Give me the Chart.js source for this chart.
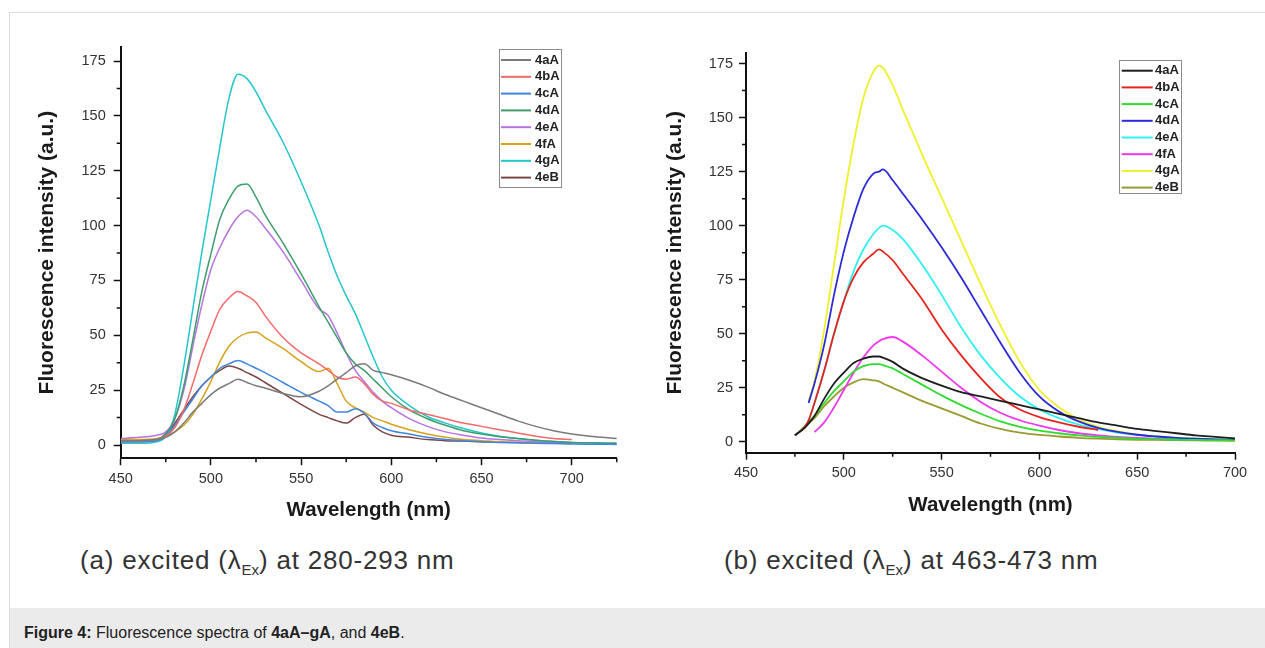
<!DOCTYPE html>
<html>
<head>
<meta charset="utf-8">
<title>Figure 4</title>
<script src="https://cdn.jsdelivr.net/npm/chart.js@4.4.1/dist/chart.umd.min.js"></script>
<style>
body { margin:0; width:1265px; height:648px; position:relative; overflow:hidden; background:#fff; font-family:"Liberation Sans", Arial, sans-serif; }
#frame { position:absolute; left:9px; top:12px; width:1270px; height:650px; border-left:1px solid #dcdcdc; border-top:1px solid #dcdcdc; }
canvas { position:absolute; top:0; }
#chartA { left:0; }
#chartB { left:640px; }
.cap { position:absolute; top:545px; font-size:26px; line-height:30px; letter-spacing:0.8px; color:#333; white-space:nowrap; }
.cap sub { font-size:15px; line-height:0; letter-spacing:0; }
#capA { left:80px; }
#capB { left:724px; }
#footer { position:absolute; left:10px; top:608px; width:1255px; height:40px; background:#ebebeb; }
#footer p { margin:0; position:absolute; left:14px; top:16px; font-size:16px; color:#222; }
</style>
</head>
<body>
<div id="frame"></div>
<canvas id="chartA" width="640" height="530"></canvas>
<canvas id="chartB" width="625" height="530"></canvas>
<div class="cap" id="capA">(a) excited (λ<sub>Ex</sub>) at 280-293 nm</div>
<div class="cap" id="capB">(b) excited (λ<sub>Ex</sub>) at 463-473 nm</div>
<div id="footer"><p><b>Figure 4:</b> Fluorescence spectra of <b>4aA–gA</b>, and <b>4eB</b>.</p></div>
<script>
'use strict';

// ---- data, panel (a) ----
var seriesNames = ['4aA', '4bA', '4cA', '4dA', '4eA', '4fA', '4gA', '4eB'];

var wlA = [450,460,470,475,480,485,490,495,500,505,510,515,520,525,530,540,550,560,565,570,575,580,585,590,595,600,610,620,630,640,650,660,670,680,690,700,710,725];
var a4aA = [2,2,2.5,3.5,6,10,15,19,23,26,28,30,28.5,27,26,23.5,22,24.5,27,30,33,36,37,34,33,32,29.5,26.5,23,20,17,14,11,8.5,6.5,5,4,3];
var a4bA = [2,2,2.5,4,8,16,28,41,52,62,67,70,68,65,59,49,42,37,34,31,30,31,28,23,20,19,16,14,12,10,8.5,7,5.5,4,3,2.5,null,null];
var a4cA = [1.5,1.5,2,4,9,15,21,27,31,35,37,38.5,37,35,33,28.5,24,20,18,15,15,16.5,14.5,10,8,6.5,5,3.5,2.5,2,1.5,1.2,1,0.8,0.7,0.5,0.4,0.3];
var a4dA = [2,2,2.5,5,12,27,48,70,87,103,112,118,119,113,105,92,78,63,56,49,42,37,34,30,26,22,16,12,9,6.5,5,3.8,3,2.2,1.6,1.2,1,0.8];
var a4eA = [3,3.5,4.5,6,12,25,45,64,80,90,98,104,107,104,99,88,75,62,59,51,42,34,29,24,20,17,12,8.5,6,4.5,3.2,2.5,2,1.5,1.2,1,null,null];
var a4fA = [2.5,2.5,3,4,6,9,14,21,29,38,45,49,51,51.5,49,44,38,33.5,35,28,20,17,15,12.5,11,9.5,7,5,3.5,2.5,2,1.5,1.2,1,0.8,0.7,null,null];
var a4gA = [0.8,0.8,1.5,4,14,36,62,88,112,136,158,169,167,161,153,138,120,100,88,77,68,60,50,40,31,25,18,13,10,7.5,5.5,4,3,2.2,1.6,1.2,1,0.8];
var a4eB = [1.5,1.5,2.5,5,10,16,22,27,31,34,36,35,33,31,28.5,23.5,18.5,14,12.5,11,10,12.5,14,9,6,4.5,3.5,2.5,2,1.8,1.5,1.3,1.1,1,0.9,0.8,null,null];

// ---- data, panel (b) ----
var wlB = [475,480,482,485,490,495,500,505,510,515,518,520,525,530,540,550,560,570,580,590,600,610,620,630,640,650,660,670,680,690,700];
var b4aA = [3,6.5,8.5,12,20,27,32,36.5,38.5,39.5,39.5,39,37,34,29.5,26,23,21,19,17,15,13,11,9,7.5,6,5,4,3,2.3,1.6];
var b4bA = [3,7,10,18,33,50,65,76,83,87,89,88,84,78,66,52,40,29.5,20.5,15,11.5,9,7,5.5,null,null,null,null,null,null,null];
var b4cA = [3,7,9,12,18,23.5,28,32.5,35,36,36,35.5,34,31.5,26.5,21.5,17,13,9.5,7,5.2,4,3,2.3,1.8,1.4,1.2,1,0.9,0.8,0.7];
var b4dA = [null,null,18,27,45,68,88,104,117,124,125,126,121,115,103,90,76,61,46,32,21,14,9.5,6.5,4.6,3.3,2.5,1.9,1.5,1.2,1];
var b4eA = [3,7,10,18,33,50,65,79,89,96,99,100,98,94,82,68,53,40,29.5,21,15,11,8,6,4.3,3.2,2.4,1.8,1.4,1.1,0.9];
var b4fA = [null,null,null,4.5,9,16,24,32,39,44.5,46.5,47.5,48.5,46.5,40,32.5,25,18.5,13.5,10,7.5,5.5,4,3,2.3,1.8,1.4,1.2,1,0.9,0.8];
var b4gA = [null,null,19,28,52,82,112,138,159,171,174,173,165,154,133,113,93,73,54,37,24,16,10.5,7,5,3.5,2.5,1.9,1.5,1.2,1];
var b4eB = [3,6.5,8.5,11,16.5,21,25,27.5,29,28.5,28,27,25,23,19,15.5,12,8.5,6,4.3,3.2,2.5,1.9,1.5,1.2,1,0.9,0.8,0.7,0.6,0.5];

// ---- ticks ----
var xTicksA = [450, 500, 550, 600, 650, 700];
var xMinorA = [475, 525, 575, 625, 675, 725];
var xTicksB = [450, 500, 550, 600, 650, 700];
var xMinorB = [475, 525, 575, 625, 675];
var yTicks = [0, 25, 50, 75, 100, 125, 150, 175];
var yMinor = [12.5, 37.5, 62.5, 87.5, 112.5, 137.5, 162.5];

var coloursA = ['#7a7a7a', '#f26a6a', '#3f86e0', '#3f9d6c', '#b574e0', '#d6a21c', '#22c6cc', '#7d4646'];
var coloursB = ['#1e1e1e', '#e8231d', '#2fdc2f', '#2b2bd8', '#2ef0f0', '#ee38ee', '#f0f02a', '#9a9a32'];

var FONT = '"Liberation Sans", Arial, sans-serif';

function points(xs, ys) {
    return xs.map(function(x, i){ return {x: x, y: ys[i]}; });
}

function makeDatasets(xs, lists, colours, width) {
    return lists.map(function(ys, i){
        return {
            label: seriesNames[i],
            data: points(xs, ys),
            borderColor: colours[i],
            borderWidth: width,
            pointRadius: 0,
            fill: false,
            cubicInterpolationMode: 'monotone'
        };
    });
}

// legend drawn as a boxed list inside the plot
var boxLegend = {
    id: 'boxLegend',
    afterDatasetsDraw: function(chart, args, o) {
        var ctx = chart.ctx;
        ctx.save();
        ctx.fillStyle = '#fff';
        ctx.fillRect(o.x, o.y, o.w, o.h);
        ctx.strokeStyle = '#8c8c8c';
        ctx.lineWidth = 1;
        ctx.strokeRect(o.x, o.y, o.w, o.h);
        ctx.font = 'bold 13px ' + FONT;
        ctx.textBaseline = 'middle';
        chart.data.datasets.forEach(function(ds, i){
            var y = o.row0 + i * o.gap;
            ctx.strokeStyle = ds.borderColor;
            ctx.lineWidth = 2;
            ctx.beginPath();
            ctx.moveTo(o.line0, y);
            ctx.lineTo(o.line1, y);
            ctx.stroke();
            ctx.fillStyle = '#222';
            ctx.fillText(ds.label, o.textX, y);
        });
        ctx.restore();
    }
};

// small minor ticks between the labelled ones
var minorTicks = {
    id: 'minorTicks',
    afterDraw: function(chart, args, o) {
        var ctx = chart.ctx, xs = chart.scales.x, ys = chart.scales.y, area = chart.chartArea;
        ctx.save();
        ctx.strokeStyle = '#111';
        ctx.lineWidth = 1.5;
        ctx.beginPath();
        o.x.forEach(function(v){
            var px = xs.getPixelForValue(v);
            ctx.moveTo(px, area.bottom);
            ctx.lineTo(px, area.bottom + 4);
        });
        o.y.forEach(function(v){
            var py = ys.getPixelForValue(v);
            ctx.moveTo(area.left, py);
            ctx.lineTo(area.left - 4, py);
        });
        ctx.stroke();
        ctx.restore();
    }
};

function makeChart(id, cfg) {
    var ctx = document.getElementById(id).getContext('2d');
    return new Chart(ctx, {
        type: 'line',
        data: { datasets: cfg.datasets },
        plugins: [boxLegend, minorTicks],
        options: {
            responsive: false,
            animation: false,
            devicePixelRatio: 1,
            layout: { padding: cfg.padding },
            plugins: {
                legend: { display: false },
                tooltip: { enabled: false },
                boxLegend: cfg.legend,
                minorTicks: { x: cfg.xMinor, y: yMinor }
            },
            scales: {
                x: {
                    type: 'linear',
                    min: 450,
                    max: cfg.xMax,
                    afterBuildTicks: function(s){ s.ticks = cfg.xTicks.map(function(v){ return {value: v}; }); },
                    afterFit: function(s){ s.height = cfg.xHeight; },
                    grid: { drawOnChartArea: false, tickLength: 7, tickColor: '#111', tickWidth: 1.5 },
                    border: { color: '#111', width: 2 },
                    ticks: { color: '#333', padding: 5, maxRotation: 0, font: { size: 14.5, family: FONT } },
                    title: { display: true, text: 'Wavelength (nm)', color: '#1a1a1a', padding: 0, font: { size: 20.5, weight: 'bold', family: FONT } }
                },
                y: {
                    min: cfg.yMin,
                    max: cfg.yMax,
                    afterBuildTicks: function(s){ s.ticks = yTicks.map(function(v){ return {value: v}; }); },
                    afterFit: function(s){ s.width = cfg.yWidth; },
                    grid: { drawOnChartArea: false, tickLength: 7, tickColor: '#111', tickWidth: 1.5 },
                    border: { color: '#111', width: 2 },
                    ticks: { color: '#333', padding: cfg.yPad, font: { size: 14.5, family: FONT } },
                    title: { display: true, text: 'Fluorescence intensity (a.u.)', color: '#1a1a1a', padding: { top: 6.5, bottom: 0 }, font: { size: 21, weight: 'bold', family: FONT } }
                }
            }
        }
    });
}

var chartA = makeChart('chartA', {
    datasets: makeDatasets(wlA, [a4aA, a4bA, a4cA, a4dA, a4eA, a4fA, a4gA, a4eB], coloursA, 1.5),
    padding: { left: 28, top: 47, right: 23.2, bottom: 7.7 },
    yWidth: 92.7, xHeight: 64.1, yPad: 8,
    xMax: 725, yMin: -6, yMax: 181.4,
    xTicks: xTicksA, xMinor: xMinorA,
    legend: { x: 499.5, y: 49.5, w: 62, h: 138, row0: 60, gap: 16.8, line0: 501, line1: 531, textX: 535 }
});

var chartB = makeChart('chartB', {
    datasets: makeDatasets(wlB, [b4aA, b4bA, b4cA, b4dA, b4eA, b4fA, b4gA, b4eB], coloursB, 1.8),
    padding: { left: 16.4, top: 52.7, right: 30, bottom: 12.7 },
    yWidth: 89.6, xHeight: 64.6, yPad: 6,
    xMax: 700, yMin: -5, yMax: 180,
    xTicks: xTicksB, xMinor: xMinorB,
    legend: { x: 479.5, y: 60.5, w: 62, h: 133, row0: 70.7, gap: 16.7, line0: 481.7, line1: 512.7, textX: 515 }
});
</script>
</body>
</html>
